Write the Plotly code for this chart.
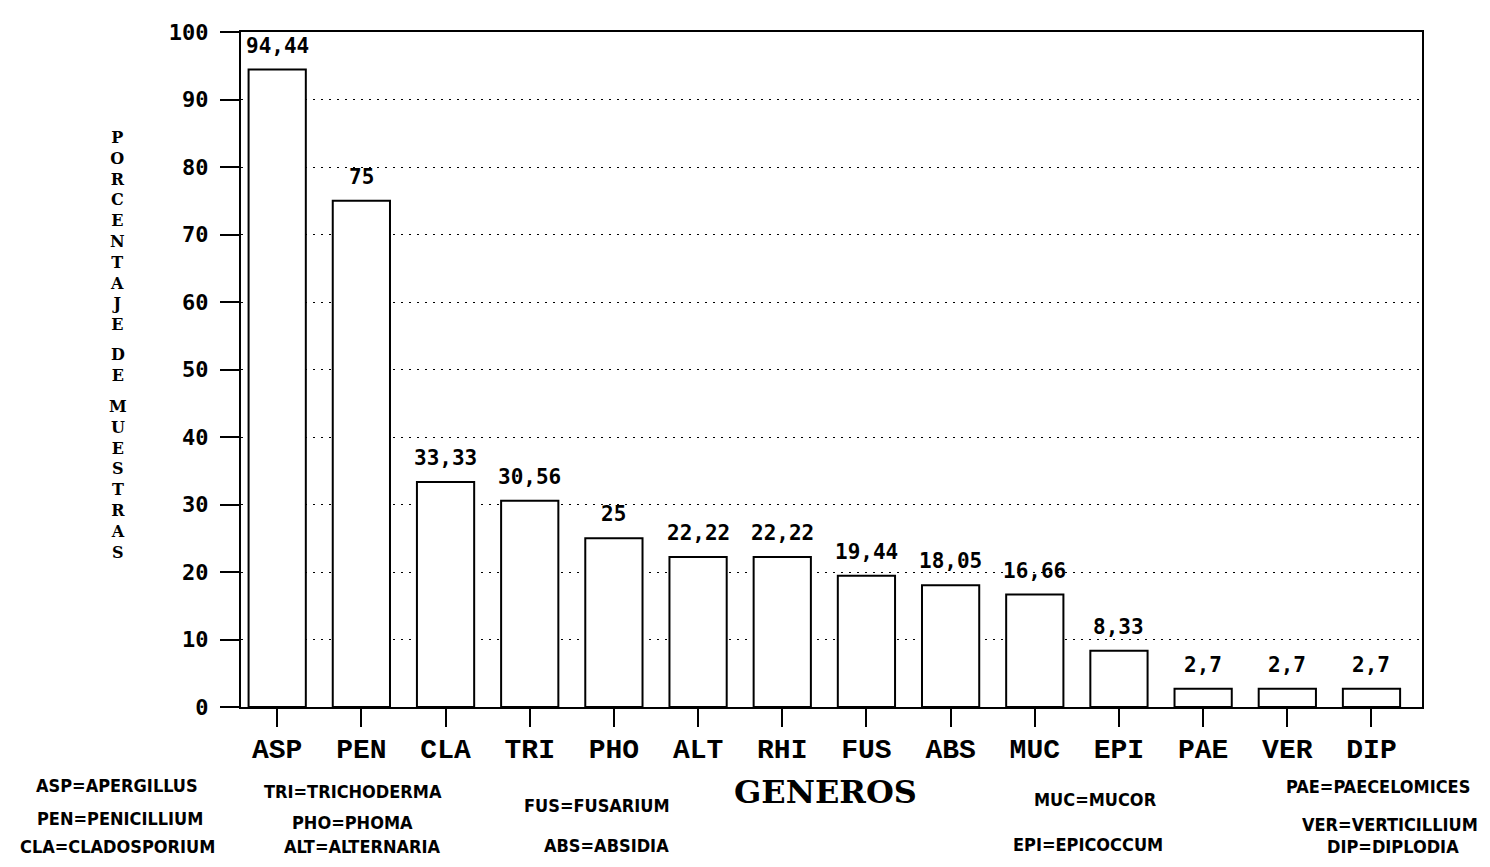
import plotly.graph_objects as go

categories = ["ASP", "PEN", "CLA", "TRI", "PHO", "ALT", "RHI", "FUS", "ABS", "MUC", "EPI", "PAE", "VER", "DIP"]
values = [94.44, 75, 33.33, 30.56, 25, 22.22, 22.22, 19.44, 18.05, 16.66, 8.33, 2.7, 2.7, 2.7]
value_labels = ["94,44", "75", "33,33", "30,56", "25", "22,22", "22,22", "19,44", "18,05", "16,66", "8,33", "2,7", "2,7", "2,7"]
y_ticks = [0, 10, 20, 30, 40, 50, 60, 70, 80, 90, 100]
y_ticks_text = ["0", "10", "20", "30", "40", "50", "60", "70", "80", "90", "100"]

legend_items = [
    ("ASP=APERGILLUS", 117, 786),
    ("PEN=PENICILLIUM", 120, 820),
    ("CLA=CLADOSPORIUM", 117, 848),
    ("TRI=TRICHODERMA", 353, 792),
    ("PHO=PHOMA", 352, 824),
    ("ALT=ALTERNARIA", 362, 848),
    ("FUS=FUSARIUM", 597, 807),
    ("ABS=ABSIDIA", 606, 847),
    ("MUC=MUCOR", 1095, 800),
    ("EPI=EPICOCCUM", 1088, 846),
    ("PAE=PAECELOMICES", 1378, 787),
    ("VER=VERTICILLIUM", 1390, 826),
    ("DIP=DIPLODIA", 1393, 848),
]

# page body has an 8px margin; figure is sized to fit the window exactly
OFF = 8
W, H = 1490 - 2 * OFF, 867 - 2 * OFF
# plot area in screen pixels
L, R, T, B = 241, 1422, 25, 707

mono = "DejaVu Sans Mono, Liberation Mono, monospace"
cmono = "Liberation Mono, Courier New, monospace"
serif = "DejaVu Serif, Liberation Serif, serif"
narrow = "Liberation Sans Narrow, DejaVu Sans Condensed, Arial Narrow, sans-serif"

fig = go.Figure()
fig.add_trace(go.Bar(
    x=categories, y=values,
    marker=dict(color="white", line=dict(color="black", width=2)),
    width=0.68,
))

def px2paper(px, py):
    return (px - L) / (R - L), (B - py) / (B - T)

annotations = []
for c, v, t in zip(categories, values, value_labels):
    annotations.append(dict(text=t, x=c, y=v, xref="x", yref="y", xanchor="center",
                            yanchor="bottom", yshift=10, showarrow=False,
                            font=dict(family=mono, size=21, color="black", weight="bold")))

for txt, px, py in legend_items:
    xp, yp = px2paper(px, py)
    annotations.append(dict(text=txt, x=xp, y=yp, xref="paper", yref="paper",
                            xanchor="center", yanchor="middle", showarrow=False,
                            font=dict(family=narrow, size=18, color="black", weight="bold")))

# GENEROS title
xp, yp = px2paper(825, 793)
annotations.append(dict(text="GENEROS", x=xp, y=yp, xref="paper", yref="paper",
                        xanchor="center", yanchor="middle", showarrow=False,
                        font=dict(family=serif, size=32, color="black", weight="bold")))

# vertical stacked y title
for word, py_mid in [("PORCENTAJE", 226), ("DE", 361), ("MUESTRAS", 477)]:
    xp, yp = px2paper(118, py_mid)
    annotations.append(dict(text="<br>".join(word), x=xp, y=yp, xref="paper", yref="paper",
                            xanchor="center", yanchor="middle", showarrow=False, align="center",
                            font=dict(family=serif, size=16, color="black", weight="bold")))

fig.update_layout(
    width=W, height=H,
    margin=dict(l=L - OFF, r=W - (R - OFF), t=T - OFF, b=H - (B - OFF), pad=0),
    plot_bgcolor="white", paper_bgcolor="white",
    showlegend=False,
    annotations=annotations,
    xaxis=dict(
        range=[-0.43, 13.6],
        showline=True, linecolor="black", linewidth=2, mirror=True,
        ticks="outside", ticklen=18, tickwidth=2, tickcolor="black",
        ticklabelstandoff=-3,
        tickfont=dict(family=cmono, size=28, color="black", weight="bold"),
        showgrid=False,
    ),
    yaxis=dict(
        range=[0, 100],
        tickmode="array", tickvals=y_ticks, ticktext=y_ticks_text,
        showline=True, linecolor="black", linewidth=2, mirror=True,
        ticks="outside", ticklen=19, tickwidth=2, tickcolor="black",
        ticklabelstandoff=7,
        tickfont=dict(family=mono, size=22, color="black", weight="bold"),
        showgrid=True, gridcolor="black", gridwidth=1, griddash="2px,6px",
        zeroline=False,
    ),
)

fig.write_html("out.html")
